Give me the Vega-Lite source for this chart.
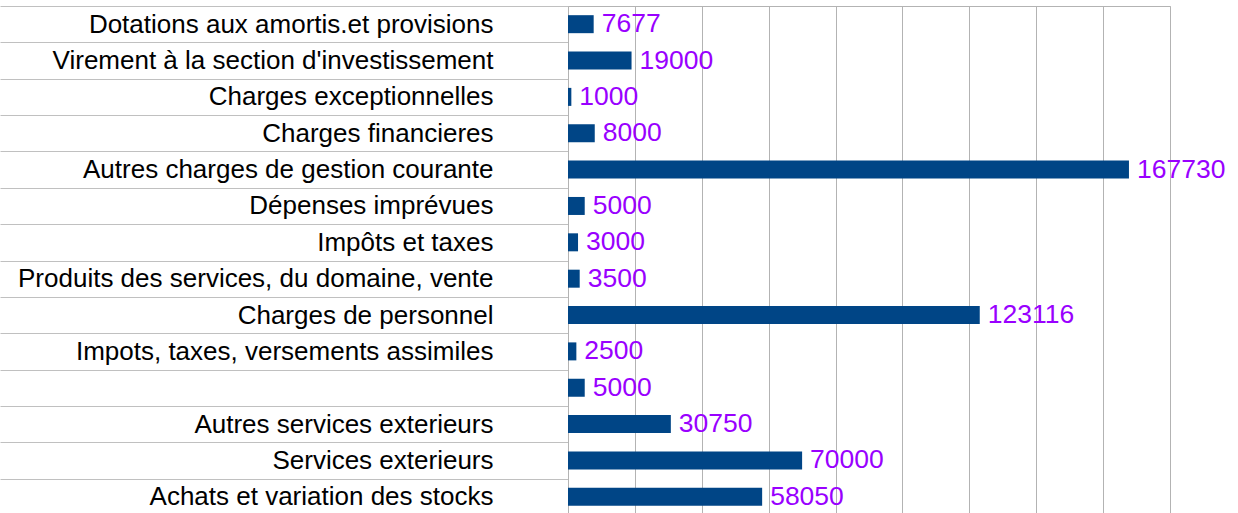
{
  "$schema": "https://vega.github.io/schema/vega-lite/v6.json",
  "autosize": "none",
  "padding": {"left": 568, "top": 6, "right": 68, "bottom": 0},
  "width": 602,
  "height": 509,
  "background": "white",
  "config": {
    "view": {"stroke": "#b3b3b3", "strokeWidth": 1},
    "font": "Liberation Sans"
  },
  "data": {
    "values": [
      {"poste": "Dotations aux amortis.et provisions", "libelle": "Dotations aux amortis.et provisions", "montant": 7677},
      {"poste": "Virement à la section d'investissement", "libelle": "Virement à la section d'investissement", "montant": 19000},
      {"poste": "Charges exceptionnelles", "libelle": "Charges exceptionnelles", "montant": 1000},
      {"poste": "Charges financieres", "libelle": "Charges financieres", "montant": 8000},
      {"poste": "Autres charges de gestion courante", "libelle": "Autres charges de gestion courante", "montant": 167730},
      {"poste": "Dépenses imprévues", "libelle": "Dépenses imprévues", "montant": 5000},
      {"poste": "Impôts et taxes", "libelle": "Impôts et taxes", "montant": 3000},
      {"poste": "Produits des services, du domaine, vente", "libelle": "Produits des services, du domaine, vente", "montant": 3500},
      {"poste": "Charges de personnel", "libelle": "Charges de personnel", "montant": 123116},
      {"poste": "Impots, taxes, versements assimiles", "libelle": "Impots, taxes, versements assimiles", "montant": 2500},
      {"poste": " ", "libelle": "Impots, taxes, versements assimiles", "montant": 5000},
      {"poste": "Autres services exterieurs", "libelle": "Autres services exterieurs", "montant": 30750},
      {"poste": "Services exterieurs", "libelle": "Services exterieurs", "montant": 70000},
      {"poste": "Achats et variation des stocks", "libelle": "Achats et variation des stocks", "montant": 58050}
    ]
  },
  "encoding": {
    "y": {
      "field": "poste",
      "type": "nominal",
      "sort": null,
      "scale": {"paddingInner": 0, "paddingOuter": 0},
      "axis": {
        "title": null,
        "tickBand": "extent",
        "tickColor": "#c0c0c0",
        "tickSize": 568,
        "labelPadding": -493,
        "labelFontSize": 26,
        "labelColor": "#000000",
        "labelLimit": 1000,
        "domainColor": "#b3b3b3"
      }
    },
    "x": {
      "field": "montant",
      "type": "quantitative",
      "scale": {"domain": [0, 180000], "nice": false},
      "axis": {
        "title": null,
        "labels": false,
        "ticks": false,
        "domain": false,
        "gridColor": "#b3b3b3",
        "tickCount": 9
      }
    }
  },
  "layer": [
    {
      "mark": {"type": "bar", "color": "#004586", "height": 18}
    },
    {
      "mark": {
        "type": "text",
        "align": "left",
        "baseline": "middle",
        "dx": 8,
        "fontSize": 26.5,
        "color": "#9900ff"
      },
      "encoding": {"text": {"field": "montant", "type": "quantitative", "format": "d"}}
    }
  ]
}
